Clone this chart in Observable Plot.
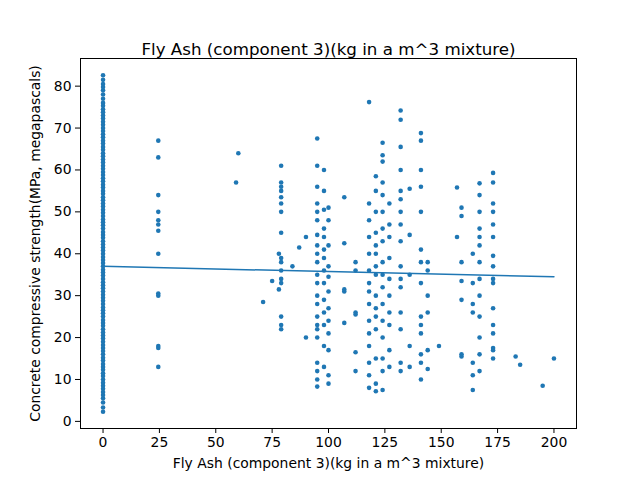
<!DOCTYPE html>
<html>
<head>
<meta charset="utf-8">
<script src="https://cdn.jsdelivr.net/npm/d3@7"></script>
<script src="https://cdn.jsdelivr.net/npm/@observablehq/plot@0.6"></script>
<style>
  body { margin: 0; background: #fff; }
  svg { font-family: "DejaVu Sans", sans-serif; }
</style>
</head>
<body>
<div id="chart"></div>
<script>
// Fly ash amount (kg/m^3) for each column of points, and the strengths
const flyAsh = [0, 24.5, 59, 60, 71, 75, 78, 79, 84, 87, 90, 95, 98, 100, 107, 112, 118, 121, 124, 127, 132, 136, 141, 144, 149, 157, 159, 164, 167, 173, 183, 185, 195, 200];
const strength = [
  [2.3, 3.3, 4.5, 5.5, 6.3, 7, 7.8, 8.5, 9.2, 10, 10.8, 11.5, 12.3, 13, 13.7, 14.5, 15.2, 16, 16.8, 17.5, 18.2, 19, 19.8, 20.5, 21.2, 22, 22.8, 23.5, 24.2, 25, 25.8, 26.5, 27.2, 28, 28.8, 29.5, 30.2, 31, 31.8, 32.5, 33.2, 34, 34.8, 35.5, 36.2, 37, 37.8, 38.5, 39.2, 40, 40.8, 41.5, 42.2, 43, 43.8, 44.5, 45.2, 46, 46.8, 47.5, 48.2, 49, 49.8, 50.5, 51.3, 52, 52.8, 53.5, 54.3, 55, 55.8, 56.5, 57.3, 58, 58.8, 59.5, 60.3, 61, 61.8, 62.5, 63.3, 64, 64.8, 65.5, 66.3, 67, 67.8, 68.5, 69.3, 70, 70.8, 71.5, 72.3, 73, 73.8, 74.5, 75.3, 76, 77, 78, 79, 79.8, 80.5, 81.5, 82.6],
  [67, 63, 54, 50, 48, 47, 45.5, 40, 30.5, 30, 18, 17.5, 13],
  [57],
  [64],
  [28.5],
  [33.5],
  [31.5, 40],
  [61, 57, 56, 55, 53.5, 52, 50, 45, 39, 38, 36, 34, 33, 25, 23, 22],
  [37],
  [41.5],
  [20, 44],
  [67.5, 61, 56, 52, 50, 48, 44.5, 42, 40, 38, 35, 33, 30, 28, 25, 23, 22, 20, 14, 12, 10, 8.3],
  [60, 55, 50.5, 46, 44, 41, 39, 36, 33, 29, 26, 23, 18, 13],
  [51, 48, 42, 37, 34.5, 31, 27, 24, 21, 17, 11, 9],
  [53.5, 42.5, 31.5, 31, 23.5],
  [38, 36, 26, 25.5, 16.5, 12],
  [76.2, 52, 48, 44, 40, 36, 33, 31, 28, 24, 21, 18, 14, 11, 8],
  [58.5, 55, 50, 45, 42, 40, 37, 35, 30, 27, 25, 22, 15, 9, 7.2],
  [66.5, 63.5, 62, 57, 54, 50, 46, 43, 38, 35, 32, 28, 24, 20, 15, 12, 7.5],
  [52, 47, 44, 39, 34, 30, 26, 23, 17, 13],
  [74.2, 72, 65.5, 60, 55, 53, 50, 47, 43, 37, 34, 32, 26, 22, 14, 12],
  [55.5, 44.5, 35, 18, 13],
  [68.8, 67, 60, 56, 50, 41, 38, 33, 25, 23, 21, 16, 14, 10],
  [38, 36, 30, 26, 17, 12.5],
  [18],
  [55.8, 44],
  [51, 49, 38, 33.5, 29, 16, 15.5],
  [40, 33, 28, 26, 14, 11, 7.5],
  [56.8, 54, 50, 46, 44, 42, 38, 34, 30, 25, 20, 16, 12],
  [59.3, 57, 52, 50, 47, 44, 39.5, 37, 34, 33, 27, 23, 21, 17.5, 17, 15],
  [15.5],
  [13.5],
  [8.5],
  [15]
];
// Least-squares fit as drawn in the reference
const fitX = [0, 200];
const fitY = [37.0, 34.5];

const points = flyAsh.flatMap((x, i) => strength[i].map(y => ({x, y})));
const fit = fitX.map((x, i) => ({x, y: fitY[i]}));

const chart = Plot.plot({
  width: 640,
  height: 480,
  marginLeft: 80,
  marginRight: 64,
  marginTop: 58,
  marginBottom: 52,
  style: {fontSize: "13.9px", fontFamily: "DejaVu Sans, sans-serif", color: "#000"},
  x: {domain: [-10, 210], ticks: [0, 25, 50, 75, 100, 125, 150, 175, 200], tickSize: 5, tickPadding: 4,
      label: "Fly Ash (component 3)(kg in a m^3 mixture)", labelAnchor: "center", labelArrow: "none", labelOffset: 39},
  y: {domain: [-1.7, 86.6], ticks: [0, 10, 20, 30, 40, 50, 60, 70, 80], tickSize: 5, tickPadding: 4,
      label: "Concrete compressive strength(MPa, megapascals)", labelAnchor: "center", labelArrow: "none", labelOffset: 50},
  marks: [
    Plot.dot(points, {x: "x", y: "y", r: 2.3, fill: "#1f77b4", stroke: "none"}),
    Plot.line(fit, {x: "x", y: "y", stroke: "#1f77b4", strokeWidth: 1.5}),
    Plot.frame({stroke: "#000"}),
    Plot.text(["Fly Ash (component 3)(kg in a m^3 mixture)"], {frameAnchor: "top", dy: -15, fontSize: 16.7})
  ]
});
document.getElementById("chart").append(chart);
</script>
</body>
</html>
